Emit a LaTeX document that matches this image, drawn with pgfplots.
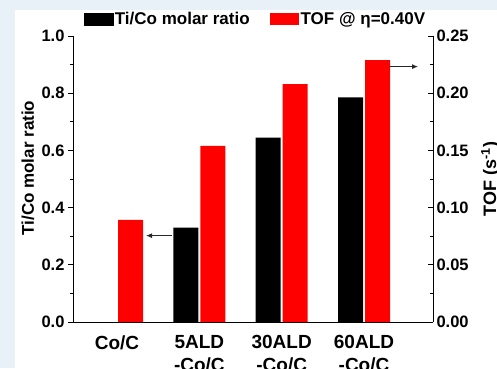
\documentclass[border=0pt]{standalone}
\usepackage{pgfplots}
\pgfplotsset{compat=1.18}
\usetikzlibrary{arrows.meta}
\usepackage{fontspec}
\setmainfont{Liberation Sans}
\definecolor{bgc}{RGB}{232,240,248}
\definecolor{arr}{RGB}{40,40,40}
\pgfplotsset{
  common/.style={
    scale only axis, width=360pt, height=286pt,
    xmin=0.465, xmax=4.838,
    axis line style={-, line width=1pt, black},
    tick style={line width=1pt, black},
    major tick length=5pt, minor tick length=3pt,
    /pgf/number format/assume math mode=true,
    yticklabel style={font=\fontsize{16.5}{19}\selectfont\bfseries},
  },
  barleg/.style={legend image code/.code={\fill[##1] (0pt,-6pt) rectangle (29pt,6pt);}},
}
\begin{document}
\begin{tikzpicture}
\useasboundingbox (0pt,0pt) rectangle (497pt,-368pt);
\fill[bgc] (0pt,0pt) rectangle (497pt,-368pt);
\fill[white] (15pt,-10pt) rectangle (497pt,-368pt);
\begin{axis}[common,
  at={(73pt,-322pt)}, anchor=south west,
  ymin=0, ymax=1,
  axis x line*=bottom, axis y line*=left,
  ytick={0,0.2,0.4,0.6,0.8,1.0}, minor ytick={0.1,0.3,0.5,0.7,0.9},
  tick align=outside,
  yticklabel style={/pgf/number format/.cd, fixed, fixed zerofill, precision=1},
  xtick={1,2,3,4},
  xticklabels={Co/C, 5ALD\\-Co/C, 30ALD\\-Co/C, 60ALD\\-Co/C},
  x tick style={draw=none},
  xticklabel style={align=center, font=\fontsize{19}{23}\selectfont\bfseries, inner sep=0pt, yshift=-8.5pt},
  every axis y label/.style={at={(rel axis cs:-0.125,0.538)}, rotate=90, anchor=center},
  ylabel={\fontsize{17}{20}\selectfont\bfseries Ti/Co molar ratio},
]
\addplot[ybar, bar width=25pt, bar shift=-13.5pt, fill=black, draw=none]
  coordinates {(1,0) (2,0.330) (3,0.645) (4,0.785)};
\draw[arr, line width=1pt, -{Latex[length=6pt,width=5pt]}] (axis cs:1.668,0.302) -- (axis cs:1.352,0.302);
\draw[arr, line width=1pt, -{Latex[length=6pt,width=5pt]}] (axis cs:4.317,0.893) -- (axis cs:4.657,0.893);
\end{axis}
\begin{axis}[common,
  at={(73pt,-322pt)}, anchor=south west,
  ymin=0, ymax=0.25,
  axis x line=none, axis y line*=right,
  ytick={0,0.05,0.10,0.15,0.20,0.25}, minor ytick={0.025,0.075,0.125,0.175,0.225},
  tick align=inside,
  yticklabel style={/pgf/number format/.cd, fixed, fixed zerofill, precision=2},
  every axis y label/.style={at={(rel axis cs:1.16,0.5)}, rotate=90, anchor=center},
  ylabel={\fontsize{18}{20}\selectfont\bfseries TOF (s\textsuperscript{-1})},
  legend style={at={(0.03,1.06)}, anchor=west, draw=none, fill=none, inner sep=0pt,
    font=\fontsize{17}{19}\selectfont\bfseries,
    nodes={inner sep=1.5pt},
    /tikz/every even column/.append style={column sep=19pt}},
  legend columns=2, legend cell align=left,
]
\addlegendimage{barleg, fill=black}
\addlegendentry{Ti/Co molar ratio}
\addplot[ybar, bar width=25pt, bar shift=13.5pt, fill=red, draw=none, barleg]
  coordinates {(1,0.0892) (2,0.154) (3,0.208) (4,0.229)};
\addlegendentry{TOF @ η=0.40V}
\end{axis}
\end{tikzpicture}
\end{document}
